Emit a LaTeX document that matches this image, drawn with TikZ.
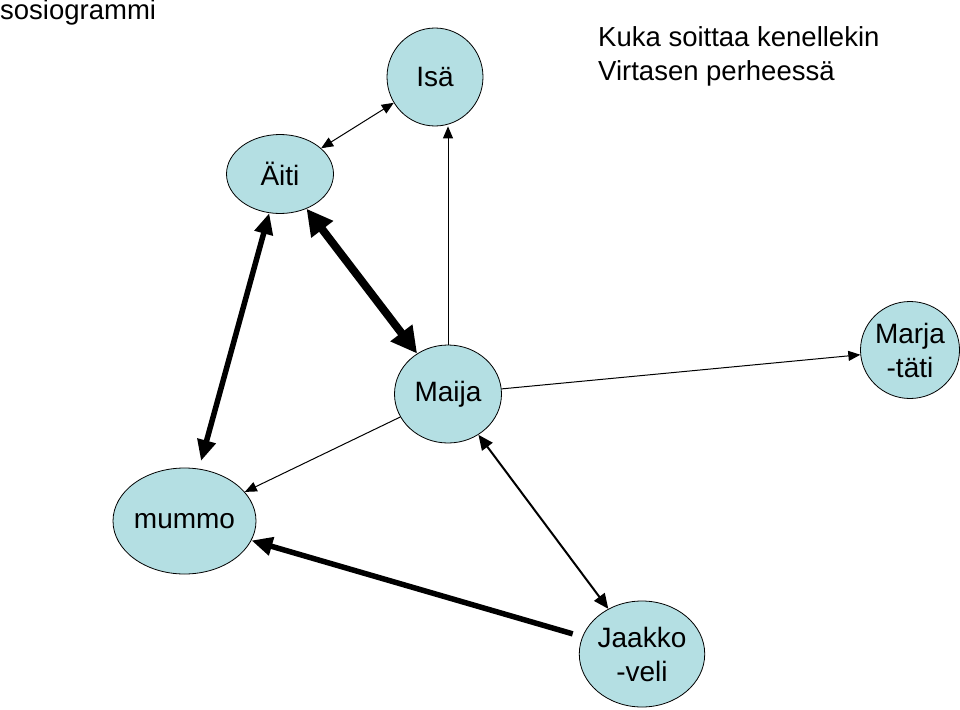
\documentclass[tikz,border=0pt]{standalone}
\usepackage{fontspec}
\setmainfont{Liberation Sans}
\usepackage{tikz}
\usetikzlibrary{arrows.meta,shapes.geometric}

\definecolor{nodefill}{RGB}{180,223,227}

\begin{document}
\begin{tikzpicture}[
  x=1pt, y=-1pt,
  person/.style={draw, ellipse, fill=nodefill, inner sep=0pt, line width=0.8pt,
    align=center, font=\fontsize{28}{34}\selectfont},
  weak/.style={line width=1pt, >={Triangle[length=12pt, width=10pt]}},
  medium/.style={line width=2pt, >={Triangle[length=15pt, width=13pt]}},
  heavy/.style={line width=5.5pt, >={Triangle[length=21pt, width=18pt]}},
  heaviest/.style={line width=8pt, >={Triangle[length=26pt, width=26pt]}},
]
  \useasboundingbox (0,0) rectangle (960,709);

  % Titles
  \node[anchor=base west, inner sep=0pt, font=\fontsize{27.5}{30}\selectfont]
    (Title) at (0,20) {sosiogrammi};
  \node[anchor=base west, inner sep=0pt, align=left, font=\fontsize{27.5}{34}\selectfont]
    (Heading) at (598,81) {Kuka soittaa kenellekin\\Virtasen perheessä};

  % Family members
  \node[person, minimum width=96pt, minimum height=98pt] (Isa) at (435,77) {Isä};
  \node[person, minimum width=107pt, minimum height=79pt] (Aiti) at (280,174) {Äiti};
  \node[person, minimum width=107pt, minimum height=98pt] (Maija) at (448,394) {Maija};
  \node[person, minimum width=97pt, minimum height=97pt] (Marja) at (910,350) {Marja\\-täti};
  \node[person, minimum width=123pt, minimum height=106pt] (Mummo) at (184.5,521) {mummo};
  \node[person, minimum width=124pt, minimum height=106pt] (Jaakko) at (642,654) {Jaakko\\-veli};

  % Calls
  \draw[weak, <->] (Aiti) -- (Isa);
  \draw[weak, ->] (Maija.north) -- (Maija.north |- Isa.south);
  \draw[heaviest, <->] (Aiti) -- (Maija);
  \draw[heavy, <->, shorten >=8pt] (Aiti) -- (Mummo);
  \draw[weak, ->] (Maija) -- (Mummo);
  \draw[weak, ->] (Maija) -- (Marja);
  \draw[medium, <->] (Maija) -- (Jaakko);
  \draw[heavy, ->, shorten <=10pt] (Jaakko) -- (Mummo);
\end{tikzpicture}
\end{document}
